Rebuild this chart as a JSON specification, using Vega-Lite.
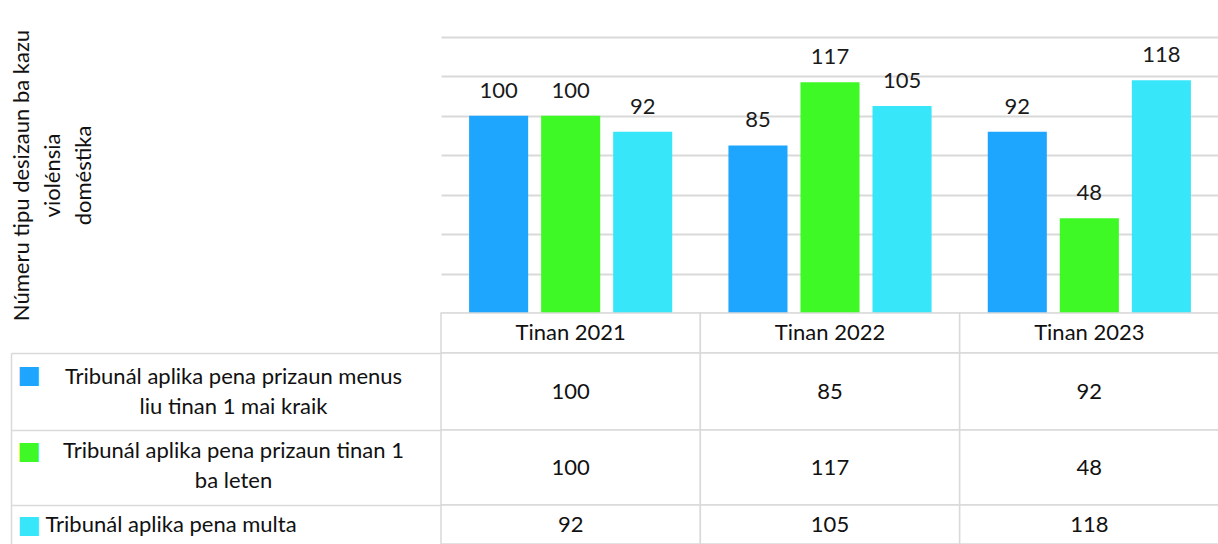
{
  "$schema": "https://vega.github.io/schema/vega-lite/v6.json",
  "padding": {"left": 10, "top": 29, "right": 0, "bottom": 0},
  "spacing": 0,
  "bounds": "flush",
  "config": {
    "view": {"stroke": null},
    "font": "Lato",
    "axis": {"labelFont": "Lato", "titleFont": "Lato"}
  },
  "datasets": {
    "d": [
      {"year": "Tinan 2021", "series": "Tribunál aplika pena prizaun menus liu tinan 1 mai kraik", "value": 100},
      {"year": "Tinan 2021", "series": "Tribunál aplika pena prizaun tinan 1 ba leten", "value": 100},
      {"year": "Tinan 2021", "series": "Tribunál aplika pena multa", "value": 92},
      {"year": "Tinan 2022", "series": "Tribunál aplika pena prizaun menus liu tinan 1 mai kraik", "value": 85},
      {"year": "Tinan 2022", "series": "Tribunál aplika pena prizaun tinan 1 ba leten", "value": 117},
      {"year": "Tinan 2022", "series": "Tribunál aplika pena multa", "value": 105},
      {"year": "Tinan 2023", "series": "Tribunál aplika pena prizaun menus liu tinan 1 mai kraik", "value": 92},
      {"year": "Tinan 2023", "series": "Tribunál aplika pena prizaun tinan 1 ba leten", "value": 48},
      {"year": "Tinan 2023", "series": "Tribunál aplika pena multa", "value": 118}
    ]
  },
  "vconcat": [
    {
      "width": 778,
      "height": 276,
      "data": {"name": "d"},
      "encoding": {
        "x": {
          "field": "year", "type": "nominal",
          "scale": {"paddingInner": 0, "paddingOuter": 0},
          "axis": null
        },
        "xOffset": {
          "field": "series", "type": "nominal",
          "sort": ["Tribunál aplika pena prizaun menus liu tinan 1 mai kraik", "Tribunál aplika pena prizaun tinan 1 ba leten", "Tribunál aplika pena multa"],
          "scale": {"paddingInner": 0.18, "paddingOuter": 0.39}
        },
        "y": {
          "field": "value", "type": "quantitative",
          "scale": {"domain": [0, 140], "nice": false},
          "axis": {
            "values": [0, 20, 40, 60, 80, 100, 120, 140],
            "labels": false, "ticks": false, "domain": false,
            "gridColor": "#d9d9d9", "gridWidth": 2,
            "title": ["Númeru tipu desizaun ba kazu", "violénsia", "doméstika"],
            "titleFontSize": 22, "titleFontWeight": "normal", "titleColor": "#111",
            "titlePadding": 346, "titleLineHeight": 31
          }
        },
        "color": {
          "field": "series", "type": "nominal",
          "scale": {
            "domain": ["Tribunál aplika pena prizaun menus liu tinan 1 mai kraik", "Tribunál aplika pena prizaun tinan 1 ba leten", "Tribunál aplika pena multa"],
            "range": ["#1EA6FE", "#3EF925", "#38E6F9"]
          },
          "legend": null
        }
      },
      "layer": [
        {"mark": {"type": "bar"}},
        {
          "mark": {"type": "text", "baseline": "alphabetic", "dy": -18, "fontSize": 22, "color": "#1a1a1a"},
          "encoding": {"text": {"field": "value"}, "color": {"value": "#1a1a1a"}}
        }
      ]
    },
    {
      "width": 778,
      "height": 40,
      "data": {"name": "d"},
      "transform": [{"filter": {"field": "series", "equal": "Tribunál aplika pena multa"}}],
      "encoding": {
        "x": {"field": "year", "type": "nominal", "scale": {"paddingInner": 0, "paddingOuter": 0}, "axis": null}
      },
      "layer": [
        {"mark": {"type": "rect", "fill": "white", "stroke": "#d9d9d9", "strokeWidth": 1.5}},
        {"mark": {"type": "text", "fontSize": 22, "color": "#111"}, "encoding": {"text": {"field": "year"}}}
      ]
    },
    {
      "width": 778,
      "height": 77,
      "data": {"name": "d"},
      "transform": [{"filter": {"field": "series", "equal": "Tribunál aplika pena prizaun menus liu tinan 1 mai kraik"}}],
      "encoding": {
        "x": {"field": "year", "type": "nominal", "scale": {"paddingInner": 0, "paddingOuter": 0}, "axis": null}
      },
      "layer": [
        {
          "mark": {"type": "rect", "fill": "white", "stroke": "#d9d9d9", "strokeWidth": 1.5},
          "encoding": {
            "y": {
              "field": "series", "type": "nominal",
              "axis": {
                "title": null, "orient": "left", "domain": false,
                "ticks": true, "tickOffset": -38.5, "tickSize": 430, "tickColor": "#d9d9d9", "tickWidth": 1.5,
                "labelExpr": "['Tribunál aplika pena prizaun menus', 'liu tinan 1 mai kraik']",
                "labelAlign": "center", "labelBaseline": "middle", "labelPadding": -222, "labelOffset": 23,
                "labelFontSize": 22, "labelColor": "#111", "labelLineHeight": 30, "labelLimit": 0
              }
            }
          }
        },
        {
          "mark": {"type": "text", "fontSize": 22, "color": "#111"},
          "encoding": {
            "text": {"field": "value"},
            "y": {
              "field": "series", "type": "nominal",
              "axis": {
                "title": null, "orient": "left", "offset": 430,
                "domain": true, "domainColor": "#d9d9d9", "domainWidth": 1.5,
                "ticks": false, "labelExpr": "'■'", "labelColor": "#1EA6FE",
                "labelAlign": "left", "labelBaseline": "middle", "labelPadding": -6,
                "labelOffset": -17, "labelFontSize": 25, "labelFont": "DejaVu Sans"
              }
            }
          }
        }
      ],
      "resolve": {"axis": {"y": "independent"}}
    },
    {
      "width": 778,
      "height": 75,
      "data": {"name": "d"},
      "transform": [{"filter": {"field": "series", "equal": "Tribunál aplika pena prizaun tinan 1 ba leten"}}],
      "encoding": {
        "x": {"field": "year", "type": "nominal", "scale": {"paddingInner": 0, "paddingOuter": 0}, "axis": null}
      },
      "layer": [
        {
          "mark": {"type": "rect", "fill": "white", "stroke": "#d9d9d9", "strokeWidth": 1.5},
          "encoding": {
            "y": {
              "field": "series", "type": "nominal",
              "axis": {
                "title": null, "orient": "left", "domain": false,
                "ticks": true, "tickOffset": -37.5, "tickSize": 430, "tickColor": "#d9d9d9", "tickWidth": 1.5,
                "labelExpr": "['Tribunál aplika pena prizaun tinan 1', 'ba leten']",
                "labelAlign": "center", "labelBaseline": "middle", "labelPadding": -222, "labelOffset": 20,
                "labelFontSize": 22, "labelColor": "#111", "labelLineHeight": 30, "labelLimit": 0
              }
            }
          }
        },
        {
          "mark": {"type": "text", "fontSize": 22, "color": "#111"},
          "encoding": {
            "text": {"field": "value"},
            "y": {
              "field": "series", "type": "nominal",
              "axis": {
                "title": null, "orient": "left", "offset": 430,
                "domain": true, "domainColor": "#d9d9d9", "domainWidth": 1.5,
                "ticks": false, "labelExpr": "'■'", "labelColor": "#3EF925",
                "labelAlign": "left", "labelBaseline": "middle", "labelPadding": -6,
                "labelOffset": -17, "labelFontSize": 25, "labelFont": "DejaVu Sans"
              }
            }
          }
        }
      ],
      "resolve": {"axis": {"y": "independent"}}
    },
    {
      "width": 778,
      "height": 39,
      "data": {"name": "d"},
      "transform": [{"filter": {"field": "series", "equal": "Tribunál aplika pena multa"}}],
      "encoding": {
        "x": {"field": "year", "type": "nominal", "scale": {"paddingInner": 0, "paddingOuter": 0}, "axis": null}
      },
      "layer": [
        {
          "mark": {"type": "rect", "fill": "white", "stroke": "#d9d9d9", "strokeWidth": 1.5},
          "encoding": {
            "y": {
              "field": "series", "type": "nominal",
              "axis": {
                "title": null, "orient": "left", "domain": false,
                "ticks": true, "tickOffset": -19.5, "tickSize": 430, "tickColor": "#d9d9d9", "tickWidth": 1.5,
                "labelAlign": "left", "labelBaseline": "middle", "labelPadding": -34, "labelOffset": 19.5,
                "labelFontSize": 22, "labelColor": "#111", "labelLimit": 0
              }
            }
          }
        },
        {
          "mark": {"type": "text", "fontSize": 22, "color": "#111"},
          "encoding": {
            "text": {"field": "value"},
            "y": {
              "field": "series", "type": "nominal",
              "axis": {
                "title": null, "orient": "left", "offset": 430,
                "domain": true, "domainColor": "#d9d9d9", "domainWidth": 1.5,
                "ticks": false, "labelExpr": "'■'", "labelColor": "#38E6F9",
                "labelAlign": "left", "labelBaseline": "middle", "labelPadding": -6,
                "labelOffset": 0, "labelFontSize": 25, "labelFont": "DejaVu Sans"
              }
            }
          }
        }
      ],
      "resolve": {"axis": {"y": "independent"}}
    }
  ]
}
